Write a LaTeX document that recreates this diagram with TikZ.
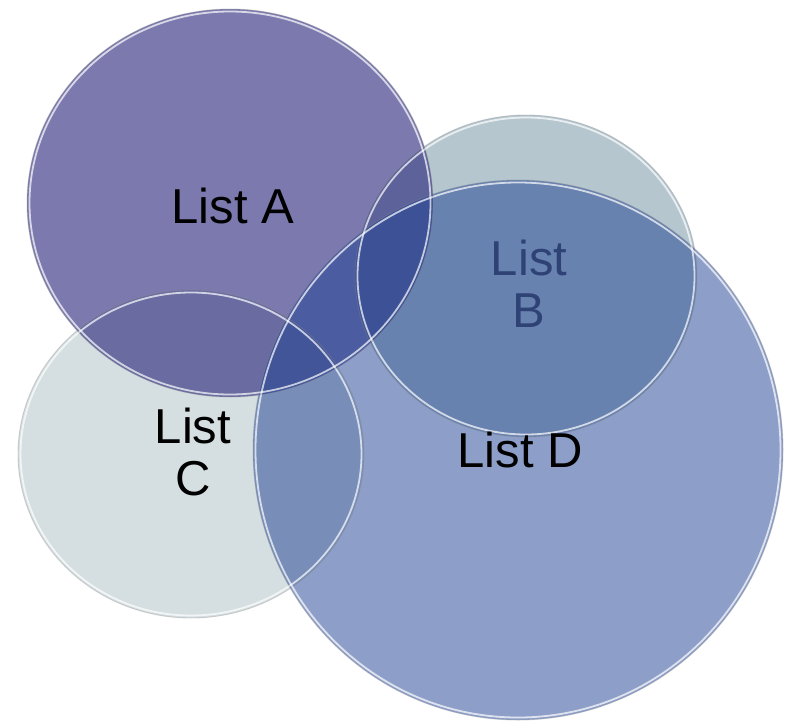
\documentclass[tikz,border=0pt]{standalone}
\usepackage{fontspec}
\setmainfont{Liberation Sans}
\begin{document}
\begin{tikzpicture}[x=1pt,y=-1pt,
  lbl/.style={inner sep=0pt, align=center, font=\fontsize{49}{52}\selectfont},
  rimout/.style={draw=black!45, line width=0.9pt, draw opacity=0.35},
  rimin/.style={draw=white, line width=1.8pt, draw opacity=0.7}]
\definecolor{cA}{HTML}{232178}
\definecolor{cB}{HTML}{B5C6CF}
\definecolor{cC}{HTML}{D5DEE0}
\definecolor{cD}{HTML}{1C4093}
\definecolor{tB}{HTML}{2E4275}
\useasboundingbox (0,0) rectangle (789,723);
\fill[white] (0,0) rectangle (789,723);
% fills
\fill[cC] (191,454) ellipse [x radius=173pt, y radius=164pt];
\fill[cB] (526,276) ellipse [x radius=171pt, y radius=161pt];
\fill[cA, fill opacity=0.6] (230,203) ellipse [x radius=203pt, y radius=194pt];
\fill[cD, fill opacity=0.5] (518,450) ellipse [x radius=265pt, y radius=270pt];
% rims
\draw[rimout] (191,454) ellipse [x radius=173pt, y radius=164pt];
\draw[rimin]  (191,454) ellipse [x radius=170.5pt, y radius=161.5pt];
\draw[rimout] (526,276) ellipse [x radius=171pt, y radius=161pt];
\draw[rimin]  (526,276) ellipse [x radius=168.5pt, y radius=158.5pt];
\draw[rimout] (518,450) ellipse [x radius=265pt, y radius=270pt];
\draw[rimin]  (518,450) ellipse [x radius=262.5pt, y radius=267.5pt];
\draw[rimout] (230,203) ellipse [x radius=203pt, y radius=194pt];
\draw[rimin]  (230,203) ellipse [x radius=200.5pt, y radius=191.5pt];
% labels
\node[lbl] (la) at (233,206) {List A};
\node[lbl, text=tB] (lb) at (529,284) {List\\B};
\node[lbl] (lc) at (193,452) {List\\C};
\node[lbl] (ld) at (520,450) {List D};
\end{tikzpicture}
\end{document}
